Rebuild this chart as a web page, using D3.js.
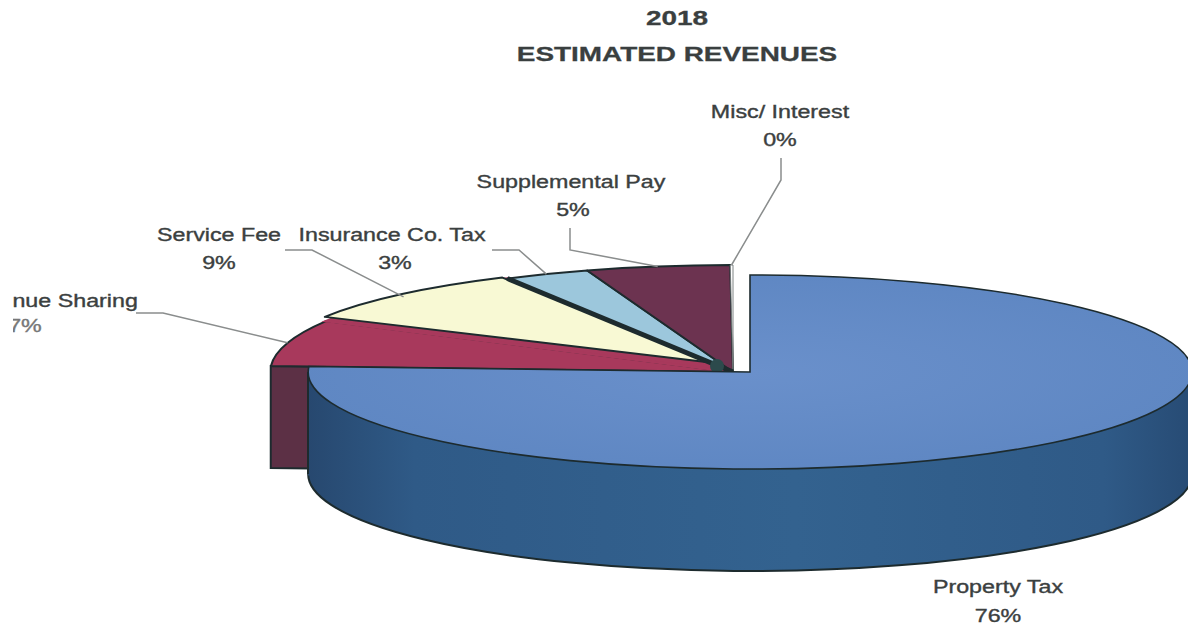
<!DOCTYPE html>
<html>
<head>
<meta charset="utf-8">
<script src="https://cdn.jsdelivr.net/npm/d3@7"></script>
<style>
  html, body { margin: 0; background: #fff; }
  svg { display: block; }
  text { font-family: "Liberation Sans", Arial, sans-serif; text-anchor: middle; }
</style>
</head>
<body>
<svg id="chart" width="1188" height="627"></svg>
<script>
// Revenue shares, percent of the 2018 estimate
const categories = ["Property Tax", "Revenue Sharing", "Service Fee", "Insurance Co. Tax", "Supplemental Pay", "Misc/ Interest"];
const shares = [75.9, 7, 9, 3, 5, 0.1];
const topColors = ["#5f88c4", "#a8395c", "#f8f9d4", "#9cc7dc", "#6c3350", "#ffffff"];
const titleLines = ["2018", "ESTIMATED REVENUES"];

// Label placement: text centre and baseline, and the elbow of each leader line
const labelX = [998, 48, 219, 392, 571, 780];
const labelY = [593, 307, 240.5, 240.5, 188, 118];
const percentX = [998, 25, 219, 395, 573, 780];
const percentY = [622, 332, 269, 269, 216, 146];
const leaderStart = [null, [136, 313], [285, 250], [492, 250], [570, 228], [781, 158]];
const leaderElbow = [null, [163, 313], [312, 250], [519, 250], [570, 250], [781, 180]];

const width = 1188, height = 627;
const depth = 102;
const textStretch = 1.33;
const mainPie = { cx: 750, cy: 372, rx: 442, ry: 97 };
const restPie = { cx: 733, cy: 372, rx: 463, ry: 107 };
// Service Fee sits slightly pulled out towards the back left
const pulledPie = { cx: 723, cy: 364, rx: 453, ry: 99 };
const slicePies = [mainPie, restPie, pulledPie, restPie, restPie, restPie];
const outline = "#1d2b2e";

const svg = d3.select("#chart");
const defs = svg.append("defs");

const sideGrad = defs.append("linearGradient").attr("id", "sideGrad");
[[0, "#27486f"], [0.12, "#2f5a87"], [0.55, "#33628f"], [0.9, "#2f5a87"], [1, "#274b74"]]
  .forEach(([o, c]) => sideGrad.append("stop").attr("offset", o).attr("stop-color", c));

const topGrad = defs.append("radialGradient").attr("id", "topGrad").attr("r", 0.7);
[[0, "#6a90cb"], [1, "#5b84c0"]]
  .forEach(([o, c]) => topGrad.append("stop").attr("offset", o).attr("stop-color", c));

defs.append("clipPath").attr("id", "pageEdge")
  .append("rect").attr("x", 13).attr("y", 0).attr("width", width - 13).attr("height", height);

const slices = d3.pie().sort(null).startAngle(0).endAngle(2 * Math.PI)(shares);
const unitArc = d3.arc().innerRadius(0).outerRadius(1);

// Point on a tilted pie at a given clockwise angle from twelve o'clock
const onRim = (pie, angle) => [
  pie.cx + pie.rx * Math.sin(angle),
  pie.cy - pie.ry * Math.cos(angle)
];
const placement = (pie, dy = 0) => `translate(${pie.cx},${pie.cy + dy}) scale(${pie.rx},${pie.ry})`;

// Cut face of the Revenue Sharing slice, seen behind the main slice
const revenue = slices[1];
const rimStart = onRim(restPie, revenue.startAngle);
svg.append("path")
  .attr("d", d3.line()([
    rimStart,
    [restPie.cx, restPie.cy],
    [restPie.cx, restPie.cy + depth],
    [rimStart[0], rimStart[1] + depth]
  ]) + "Z")
  .attr("fill", "#5c3045")
  .attr("stroke", outline)
  .attr("stroke-width", 2);

// One slice top, in the tilted pie it belongs to
const drawTop = (parent, d, i) => parent.append("path")
  .attr("transform", placement(slicePies[i]))
  .attr("d", unitArc(d))
  .attr("fill", topColors[i])
  .attr("stroke", i === 5 ? "#6f7676" : outline)
  .attr("stroke-width", i === 5 ? 0.9 : 2)
  .attr("stroke-linejoin", "round")
  .style("vector-effect", "non-scaling-stroke");

const restTops = svg.append("g");
drawTop(restTops, slices[1], 1);

// Red floor showing under the pulled-out Service Fee slice
restTops.append("path")
  .attr("transform", placement(restPie))
  .attr("d", unitArc(slices[2]))
  .attr("fill", topColors[1])
  .attr("stroke", topColors[1])
  .attr("stroke-width", 2.5)
  .style("vector-effect", "non-scaling-stroke");

slices.forEach((d, i) => { if (i > 1) drawTop(restTops, d, i); });

// Dark cut edge along the lower side of the Insurance Co. Tax slice
svg.append("path")
  .attr("d", d3.line()([
    onRim(restPie, slices[3].startAngle),
    [restPie.cx, restPie.cy]
  ]))
  .attr("stroke", outline)
  .attr("stroke-width", 5);

// Hub where the small slices meet
svg.append("circle")
  .attr("cx", restPie.cx - 16).attr("cy", restPie.cy - 6).attr("r", 7)
  .attr("fill", "#2c4a4c");

// Main slice: extruded rim first, then its top
const main = slices[0];
svg.append("path")
  .attr("transform", placement(mainPie, depth))
  .attr("d", unitArc(main))
  .attr("fill", "url(#sideGrad)")
  .attr("stroke", outline)
  .attr("stroke-width", 2)
  .style("vector-effect", "non-scaling-stroke");
svg.append("rect")
  .attr("x", mainPie.cx - mainPie.rx).attr("y", mainPie.cy)
  .attr("width", 2 * mainPie.rx).attr("height", depth + 1.5)
  .attr("fill", "url(#sideGrad)");
svg.append("line")
  .attr("x1", mainPie.cx - mainPie.rx).attr("x2", mainPie.cx - mainPie.rx)
  .attr("y1", mainPie.cy).attr("y2", mainPie.cy + depth)
  .attr("stroke", outline).attr("stroke-width", 2);
svg.append("path")
  .attr("transform", placement(mainPie))
  .attr("d", unitArc(main))
  .attr("fill", "url(#topGrad)")
  .attr("stroke", outline)
  .attr("stroke-width", 1.6)
  .style("vector-effect", "non-scaling-stroke");

// Leader lines run from a label to the rim of its slice
const leaders = svg.append("g").attr("fill", "none").attr("stroke", "#8a8d8d").attr("stroke-width", 1.5);
slices.forEach((d, i) => {
  if (!leaderStart[i]) return;
  const mid = (d.startAngle + d.endAngle) / 2;
  leaders.append("path").attr("d", d3.line()([leaderStart[i], leaderElbow[i], onRim(restPie, mid)]));
});

// Category and percentage labels, drawn wide
const labels = svg.append("g")
  .attr("clip-path", "url(#pageEdge)")
  .attr("fill", "#3b4040")
  .attr("font-size", 17.5)
  .attr("stroke", "#3b4040")
  .attr("stroke-width", 0.35);
categories.forEach((name, i) => {
  labels.append("text")
    .attr("transform", `translate(${labelX[i]},${labelY[i]}) scale(${textStretch},1.06)`)
    .text(name);
  labels.append("text")
    .attr("transform", `translate(${percentX[i]},${percentY[i]}) scale(${textStretch},1.06)`)
    .attr("fill", i === 1 ? "#777" : null)
    .attr("stroke", i === 1 ? "#777" : null)
    .text(Math.round(shares[i]) + "%");
});

// Title
svg.append("g").attr("fill", "#3a3f3f").attr("font-weight", "bold").attr("font-size", 21)
  .attr("stroke", "#3a3f3f").attr("stroke-width", 0.3)
  .selectAll("text").data(titleLines).join("text")
  .attr("transform", (d, i) => `translate(677,${25 + i * 36}) scale(${textStretch},1)`)
  .text(d => d);
</script>
</body>
</html>
